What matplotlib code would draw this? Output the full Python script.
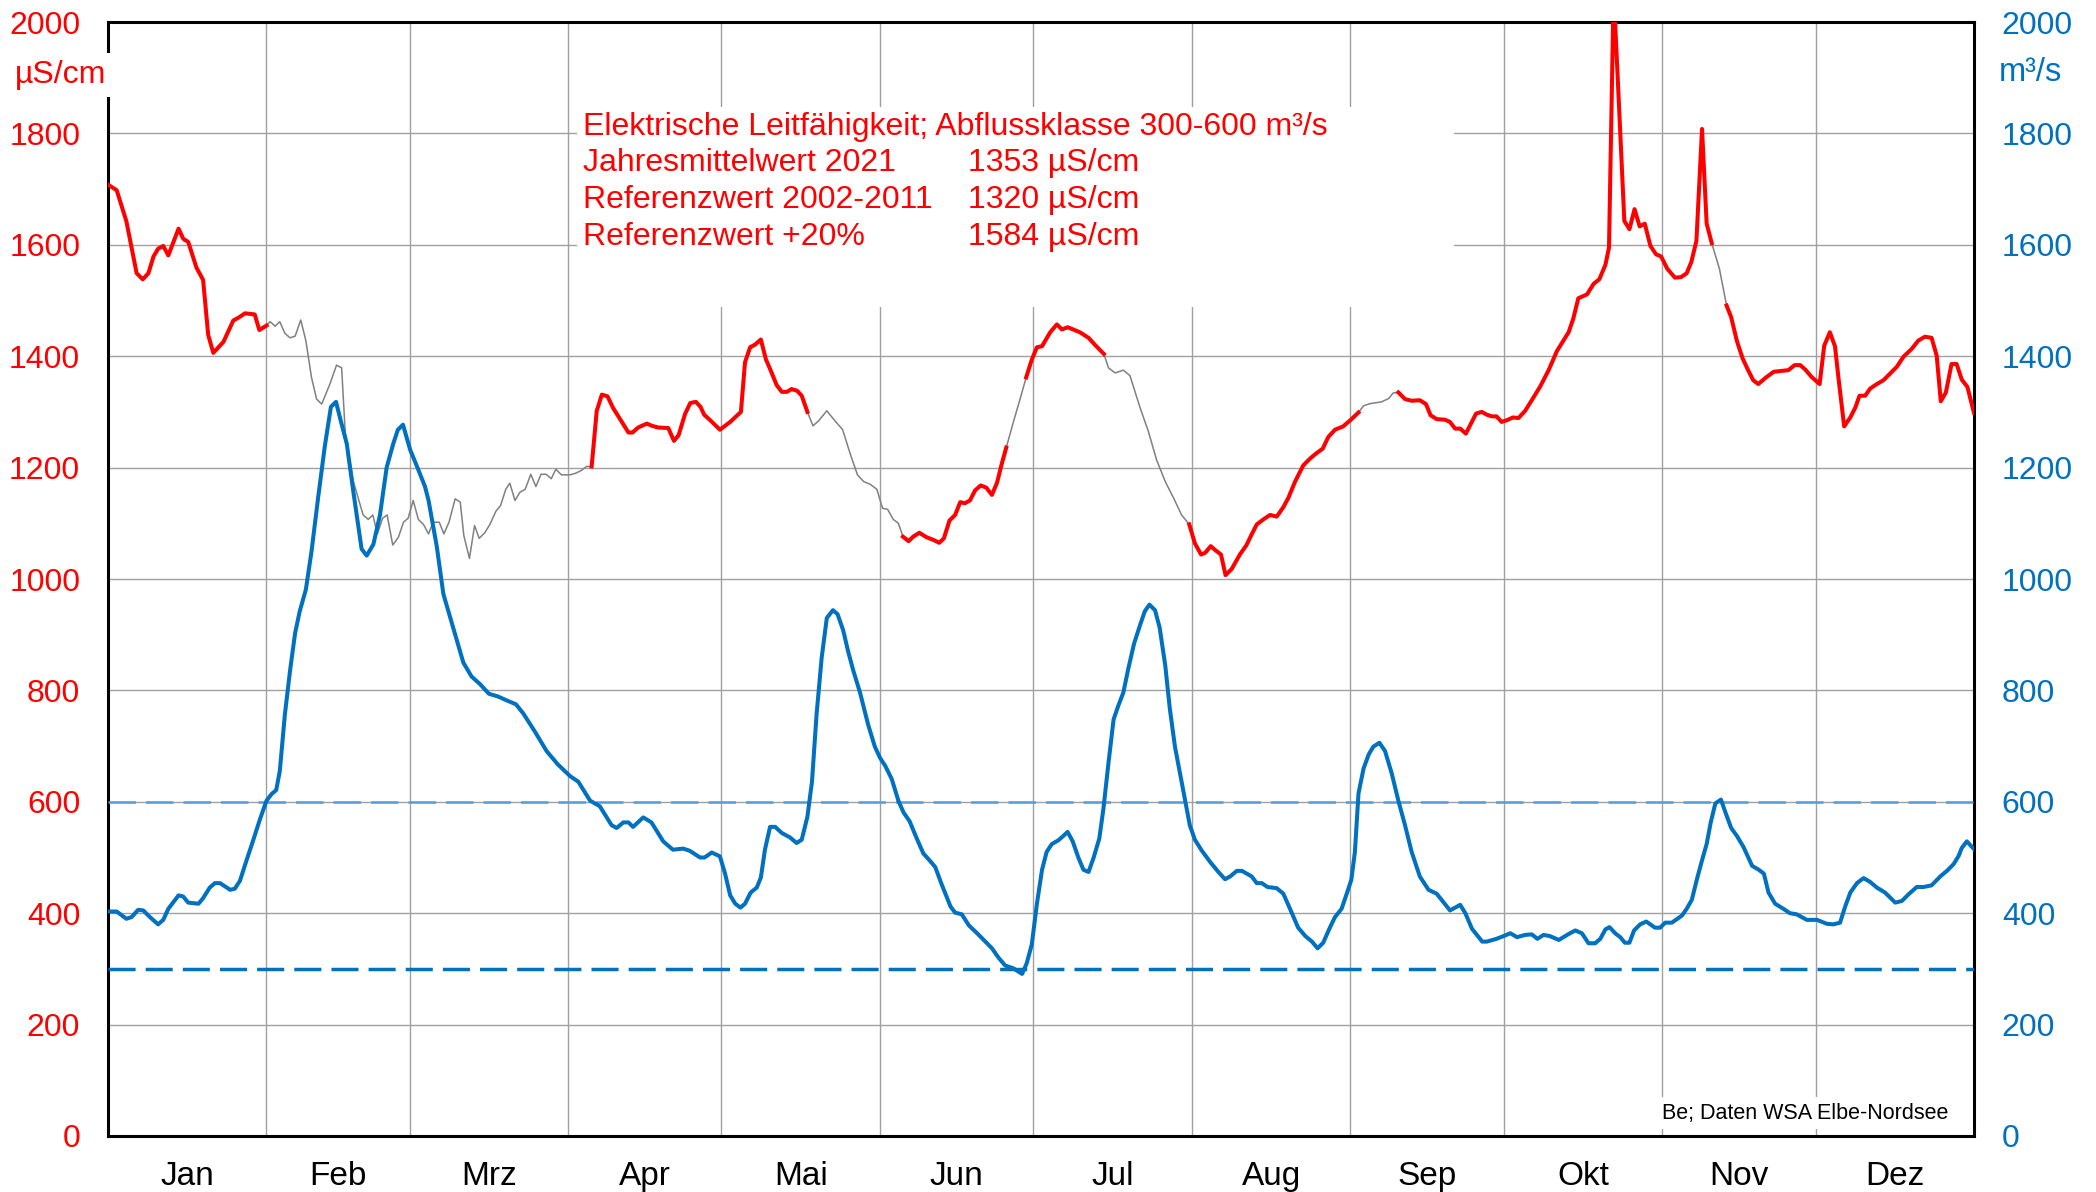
import numpy as np
import matplotlib.pyplot as plt
from matplotlib.patches import Rectangle

plt.rcParams['font.family'] = ['Liberation Sans', 'DejaVu Sans']

## Monate
monate = ['Jan', 'Feb', 'Mrz', 'Apr', 'Mai', 'Jun', 'Jul', 'Aug', 'Sep', 'Okt', 'Nov', 'Dez']
monat_tage = [31, 28, 31, 30, 31, 30, 31, 31, 30, 31, 30, 31]

## Elektrische Leitfaehigkeit (uS/cm), Tag des Jahres
lf_tag = [0, 1.7, 3.6, 5.6, 6.8, 7.9, 8.9, 9.8, 10.8, 11.8, 13.8, 14.7, 15.7, 17.3, 18.6, 19.6, 20.6,
          22.6, 24.5, 25.5, 26.8, 28.7, 29.6, 31.0, 31.7, 32.7, 33.6, 34.6, 35.6, 36.6, 37.7, 38.7,
          39.8, 40.8, 41.8, 43.4, 44.7, 45.7, 46.4, 48.0, 49.9, 50.9, 51.8, 52.7, 53.7, 54.6, 55.7,
          56.8, 57.8, 58.7, 59.7, 60.7, 61.7, 62.7, 63.6, 64.8, 65.7, 66.7, 67.9, 68.9, 69.6, 70.7,
          71.7, 72.6, 73.7, 74.7, 75.9, 76.8, 77.8, 78.6, 79.6, 80.6, 81.6, 82.7, 83.7, 84.7, 85.7,
          86.7, 87.6, 88.7, 90.4, 91.5, 92.6, 93.6, 94.6, 95.6, 96.6, 97.7, 98.8, 100.5, 101.8,
          102.6, 103.7, 105.4, 106.4, 107.6, 109.6, 110.7, 111.6, 112.9, 113.9, 115.0, 115.9, 116.6,
          117.8, 119.7, 121.7, 123.8, 124.6, 125.6, 126.6, 127.7, 128.7, 129.6, 130.8, 131.8, 132.8,
          133.7, 134.8, 135.7, 136.8, 137.9, 139.0, 140.6, 142.2, 143.7, 145.2, 146.6, 147.8, 149.1,
          150.4, 151.5, 152.5, 153.6, 154.6, 155.5, 156.6, 157.5, 158.7, 160.1, 161.5, 162.6, 163.5,
          164.6, 165.7, 166.7, 167.6, 168.6, 169.6, 170.7, 171.8, 172.9, 173.9, 174.8, 175.7, 177.1,
          178.4, 179.6, 180.7, 181.7, 182.7, 184.3, 185.6, 186.6, 187.7, 188.8, 190.1, 191.8, 193.1,
          194.8, 195.7, 197.0, 198.6, 199.9, 201.9, 203.5, 205.1, 206.8, 208.4, 210.0, 211.5, 212.6,
          213.8, 214.6, 215.7, 216.7, 217.7, 218.6, 219.8, 221.4, 222.7, 223.7, 224.7, 226.0, 227.3,
          228.6, 229.9, 230.9, 232.2, 233.8, 235.1, 236.4, 237.6, 238.7, 240.0, 241.6, 243.0, 244.6,
          245.6, 246.9, 249.1, 250.5, 251.4, 252.4, 253.7, 255.0, 256.6, 257.8, 258.7, 259.9, 261.5,
          262.5, 263.5, 264.5, 265.6, 266.6, 267.6, 268.7, 269.7, 270.7, 271.6, 272.6, 273.6, 274.8,
          275.9, 277.2, 278.5, 280.1, 281.8, 283.4, 285.7, 286.6, 287.6, 289.3, 290.6, 291.7, 292.9,
          293.6, 294.4, 294.8, 296.6, 297.6, 298.6, 299.6, 300.6, 301.7, 302.8, 303.8, 305.0, 306.5,
          307.7, 308.8, 309.7, 310.7, 311.8, 312.7, 313.7, 315.2, 316.6, 317.5, 318.6, 319.7, 320.7,
          321.8, 322.8, 324.2, 325.8, 328.7, 329.9, 331.0, 332.0, 333.2, 334.8, 335.7, 336.8, 337.8,
          338.5, 339.6, 340.8, 341.8, 342.6, 343.7, 344.7, 346.0, 347.3, 348.5, 349.9, 351.2, 352.8,
          354.1, 355.4, 356.7, 357.7, 358.5, 359.5, 360.6, 361.6, 362.6, 363.7, 365.0]
lf_wert = [1708, 1698, 1642, 1549, 1538, 1549, 1579, 1593, 1598, 1581, 1629, 1611, 1605, 1559, 1537, 1438, 1406,
           1426, 1464, 1469, 1477, 1475, 1447, 1455, 1462, 1454, 1462, 1441, 1433, 1436, 1465, 1428,
           1362, 1323, 1314, 1350, 1384, 1379, 1263, 1175, 1115, 1107, 1115, 1081, 1109, 1115, 1061,
           1075, 1102, 1109, 1141, 1107, 1098, 1081, 1102, 1102, 1081, 1102, 1144, 1138, 1078, 1037,
           1096, 1073, 1083, 1098, 1122, 1132, 1161, 1172, 1141, 1156, 1161, 1188, 1166, 1188, 1188,
           1180, 1197, 1187, 1187, 1190, 1195, 1202, 1202, 1302, 1331, 1328, 1307, 1282, 1263,
           1263, 1272, 1279, 1275, 1272, 1271, 1248, 1258, 1297, 1316, 1318, 1309, 1295,
           1285, 1268, 1282, 1300, 1389, 1416, 1421, 1430, 1394, 1375, 1348, 1336, 1336,
           1341, 1338, 1329, 1300, 1275, 1284, 1302, 1284, 1268, 1224, 1187, 1175, 1170,
           1161, 1127, 1125, 1107, 1100, 1076, 1068, 1076, 1083, 1075, 1070, 1065, 1073,
           1105, 1115, 1138, 1136, 1141, 1159, 1168, 1164, 1151, 1173, 1206, 1236, 1282,
           1323, 1362, 1394, 1416, 1418, 1443, 1457, 1448, 1452, 1448, 1443, 1433, 1420,
           1404, 1379, 1370, 1375, 1365, 1307, 1265, 1214, 1175, 1146, 1115, 1098, 1064,
           1044, 1047, 1059, 1051, 1044, 1007, 1018, 1044, 1061, 1080, 1098, 1107, 1115,
           1112, 1129, 1146, 1175, 1204, 1216, 1226, 1234, 1255, 1268, 1274, 1285, 1299,
           1311, 1315, 1318, 1324, 1334, 1335, 1323, 1320, 1321, 1314, 1294, 1287, 1286,
           1282, 1270, 1270, 1261, 1279, 1297, 1300, 1295, 1292, 1292, 1282, 1285, 1290,
           1289, 1302, 1321, 1345, 1375, 1409, 1443, 1467, 1504, 1511, 1530, 1538, 1564,
           1595, 2000, 2000, 1643, 1628, 1664, 1633, 1638, 1598, 1583, 1579, 1557, 1541,
           1542, 1549, 1569, 1607, 1808, 1638, 1603, 1557, 1491, 1470, 1428, 1397, 1377,
           1357, 1350, 1361, 1372, 1375, 1384, 1384, 1376, 1363, 1350, 1419, 1443, 1418,
           1360, 1274, 1290, 1308, 1329, 1329, 1342, 1350, 1357, 1368, 1381, 1399, 1413,
           1428, 1435, 1433, 1401, 1319, 1335, 1386, 1386, 1358, 1345, 1298]

## Abfluss (m3/s)
q_tag = [0, 1.7, 3.6, 4.6, 5.9, 6.9, 8.2, 9.8, 10.8, 11.8, 13.8, 14.7, 15.7, 17.7, 18.6, 19.9, 20.9,
         21.9, 23.9, 24.8, 25.8, 27.1, 28.4, 29.7, 31.0, 32.0, 32.9, 33.6, 34.6, 35.6, 36.6, 37.5,
         38.7, 39.8, 41.1, 42.4, 43.6, 44.6, 45.5, 46.7, 48.0, 49.6, 50.6, 51.9, 53.2, 54.5, 55.8,
         56.7, 57.7, 59.1, 60.4, 62.0, 62.7, 64.3, 65.6, 67.5, 69.5, 71.1, 72.8, 74.5, 76.3, 78.0,
         79.8, 81.2, 83.5, 85.8, 88.0, 90.4, 92.0, 94.3, 96.2, 98.5, 99.5, 100.8, 101.8, 102.7,
         104.7, 106.3, 108.6, 110.5, 112.5, 113.8, 115.8, 116.7, 118.1, 119.7, 120.7, 121.7, 122.7,
         123.7, 124.6, 125.7, 126.9, 127.7, 128.5, 129.5, 130.5, 131.8, 133.4, 134.7, 135.7, 136.8,
         137.7, 138.6, 139.6, 140.6, 141.8, 142.7, 143.8, 144.8, 145.8, 147.1, 148.7, 150.0, 151.0,
         152.0, 153.3, 154.6, 155.6, 156.8, 158.2, 159.5, 160.5, 161.8, 163.1, 164.8, 165.7, 167.0,
         168.4, 170.0, 171.6, 172.9, 174.2, 175.5, 177.1, 178.8, 179.7, 180.7, 181.7, 182.7, 183.6,
         184.6, 185.9, 186.9, 187.7, 188.7, 189.8, 190.8, 191.8, 192.8, 193.9, 194.7, 195.7, 196.7,
         197.6, 198.6, 199.6, 200.7, 201.9, 202.8, 203.7, 204.8, 205.7, 206.8, 207.7, 208.7, 209.7,
         210.7, 211.6, 212.6, 213.9, 215.5, 217.2, 218.5, 219.5, 220.8, 221.8, 223.7, 224.7, 225.7,
         226.8, 228.6, 229.9, 231.2, 232.8, 234.2, 235.5, 236.6, 237.7, 239.0, 240.0, 241.3, 242.3,
         243.2, 243.9, 244.6, 245.6, 246.6, 247.5, 248.7, 249.8, 251.1, 252.4, 253.7, 255.0, 256.6,
         258.3, 259.9, 261.3, 262.5, 264.5, 265.5, 266.8, 268.8, 269.7, 271.6, 273.0, 274.3, 275.6,
         277.2, 278.5, 279.6, 280.8, 282.0, 283.8, 285.4, 287.0, 288.3, 289.6, 290.9, 291.9, 292.9,
         293.7, 294.8, 295.8, 296.7, 297.6, 298.5, 299.7, 300.9, 302.6, 303.6, 304.6, 305.9, 307.9,
         308.8, 309.8, 310.8, 311.8, 312.7, 313.5, 314.4, 315.5, 316.3, 317.5, 318.6, 319.9, 321.6,
         322.9, 323.9, 324.8, 326.1, 327.7, 329.0, 330.3, 332.3, 334.3, 336.2, 337.5, 338.8, 339.8,
         340.8, 342.1, 343.4, 344.7, 346.0, 347.6, 349.6, 350.9, 352.2, 353.8, 355.1, 356.7, 358.4,
         359.7, 361.0, 362.0, 362.6, 363.6, 365.0]
q_wert = [403, 403, 390, 393, 406, 405, 393, 380, 388, 408, 432, 430, 419, 417, 427, 446, 454,
          454, 442, 444, 458, 495, 531, 568, 602, 614, 621, 655, 757, 835, 903, 942,
          981, 1049, 1146, 1238, 1309, 1318, 1285, 1243, 1156, 1054, 1042, 1062, 1115, 1200, 1243,
          1268, 1277, 1232, 1203, 1166, 1141, 1059, 973, 913, 850, 825, 811, 794, 789, 782,
          775, 759, 726, 691, 667, 646, 636, 602, 592, 558, 553, 563, 563, 555,
          572, 563, 529, 514, 516, 512, 500, 500, 509, 502, 471, 432, 417,
          410, 417, 437, 446, 464, 514, 555, 555, 544, 536, 526, 532, 573,
          636, 757, 859, 930, 944, 937, 908, 869, 835, 796, 738, 699, 679,
          665, 641, 602, 581, 565, 534, 507, 497, 483, 451, 412, 401, 398,
          378, 364, 349, 337, 320, 306, 301, 291, 310, 344, 417, 478, 510,
          524, 531, 539, 546, 529, 500, 478, 474, 500, 534, 587, 670, 748,
          772, 796, 840, 884, 918, 942, 954, 944, 913, 845, 767, 699, 651,
          602, 558, 532, 513, 493, 474, 461, 466, 476, 476, 466, 454, 454,
          447, 445, 435, 408, 374, 359, 349, 337, 347, 374, 393, 408, 435,
          460, 510, 615, 660, 685, 699, 706, 691, 651, 602, 558, 510, 466,
          442, 435, 419, 405, 415, 400, 372, 349, 349, 354, 359, 364, 357,
          361, 362, 354, 361, 359, 352, 361, 369, 364, 346, 346, 354, 371,
          375, 364, 357, 347, 347, 369, 380, 385, 374, 374, 383, 383, 396,
          408, 424, 461, 495, 524, 563, 597, 604, 583, 553, 539, 519, 485,
          478, 471, 437, 417, 408, 400, 398, 388, 388, 381, 380, 383, 412,
          437, 454, 463, 456, 446, 437, 419, 422, 434, 447, 447, 450, 466,
          476, 488, 503, 517, 529, 515]

## Zeitraeume mit Abfluss in der Klasse 300-600 m3/s
klasse_zeiten = [(0, 31.0), (94.6, 136.8), (155.5, 175.7), (179.6, 194.8),
                 (211.5, 244.6), (252.4, 313.7), (316.6, 365.0)]
klasse_min = 300
klasse_max = 600

lf_tag = np.array(lf_tag)
lf_wert = np.array(lf_wert, dtype=float)
in_klasse = np.zeros(len(lf_tag), dtype=bool)
for a, b in klasse_zeiten:
	in_klasse |= (lf_tag >= a) & (lf_tag <= b)
lf_rot = np.where(in_klasse, lf_wert, np.nan)

rot = '#FF0000'
blau = '#0070C0'

fig = plt.figure(figsize=(20.96, 11.92), dpi=100)
ax = fig.add_axes([0.05153, 0.04698, 0.89027, 0.93456])
ax2 = ax.twinx()

# Leitfaehigkeit
ax.plot(lf_tag, lf_wert, color='#808080', lw=1.1, zorder=3)
ax.plot(lf_tag, lf_rot, color=rot, lw=2.9, zorder=4)

# Abfluss
ax2.axhline(klasse_max, color='#5B9BD5', lw=1.8, dashes=(11, 4), zorder=1)
ax2.axhline(klasse_min, color=blau, lw=2.5, dashes=(7.8, 2.9), zorder=1)
ax2.plot(q_tag, q_wert, color=blau, lw=2.9, zorder=2)

# axes
starts = np.concatenate([[0], np.cumsum(monat_tage)])
mitten = starts[:-1] + np.array(monat_tage) / 2.0
ax.set_xlim(0, 365)
ax.set_ylim(0, 2000)
ax2.set_ylim(0, 2000)
ax.set_xticks(starts)
ax.set_xticklabels([])
ax.set_xticks(mitten, minor=True)
ax.set_xticklabels(monate, minor=True, fontsize=24)
ax.tick_params(axis='x', which='both', length=0, pad=18)
ax.set_yticks(range(0, 2001, 200))
ax.tick_params(axis='y', length=0, pad=20, labelsize=23, labelcolor=rot)
ax2.set_yticks(range(0, 2001, 200))
ax2.tick_params(axis='y', length=0, pad=20, labelsize=23, labelcolor=blau)
ax.grid(True, which='major', color='#A0A0A0', lw=1.0)
ax.set_axisbelow(True)
for s in ax.spines.values():
	s.set_linewidth(2.2)
	s.set_color('black')
for s in ax2.spines.values():
	s.set_visible(False)

# Textfeld
ax.add_patch(Rectangle((0.2513, 0.7442), 0.47, 0.1795, transform=ax.transAxes,
                       facecolor='white', edgecolor='none', zorder=2))
zeilen = [('Elektrische Leitfähigkeit; Abflussklasse 300-600 m³/s', ''),
          ('Jahresmittelwert 2021', '1353 µS/cm'),
          ('Referenzwert 2002-2011', '1320 µS/cm'),
          ('Referenzwert +20%', '1584 µS/cm')]
ys = [0.9057, 0.8734, 0.8402, 0.8070]
for (t1, t2), y in zip(zeilen, ys):
	ax.text(0.2546, y, t1, transform=ax.transAxes, color=rot, fontsize=23, va='center', ha='left', zorder=5)
	if t2:
		ax.text(0.4609, y, t2, transform=ax.transAxes, color=rot, fontsize=23, va='center', ha='left', zorder=5)

ax.text(0.986, 0.0206, 'Be; Daten WSA Elbe-Nordsee', transform=ax.transAxes, color='black',
        fontsize=15.5, va='center', ha='right', zorder=5,
        bbox=dict(facecolor='white', edgecolor='none', pad=4))

fig.text(0.0289, 0.937, 'µS/cm', color=rot, fontsize=23, ha='center', va='center',
         bbox=dict(facecolor='white', edgecolor='none', pad=5))
fig.text(0.9687, 0.9388, 'm³/s', color=blau, fontsize=23.5, ha='center', va='center')

plt.savefig('out.png', dpi=100)
